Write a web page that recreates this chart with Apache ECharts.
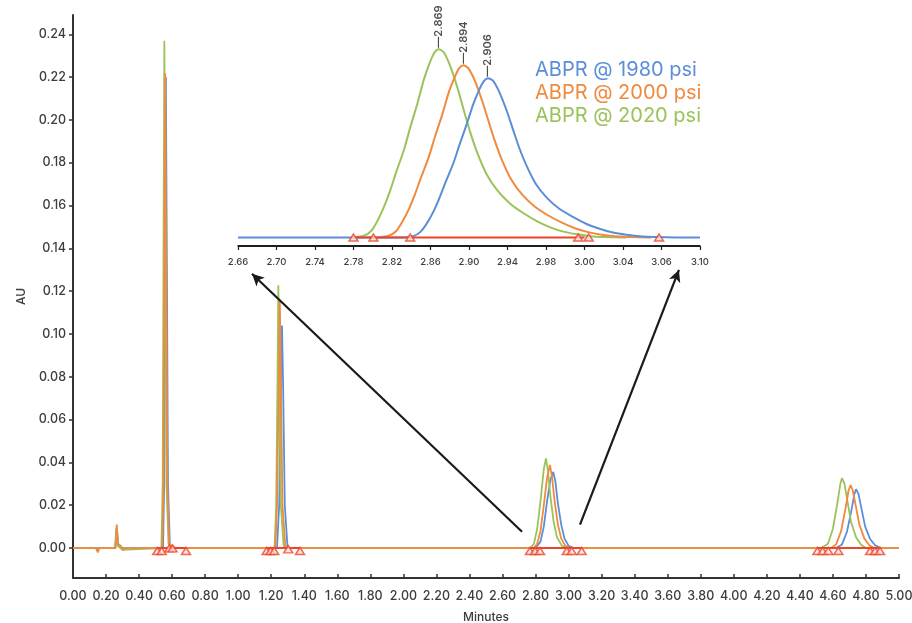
<!DOCTYPE html>
<html>
<head>
<meta charset="utf-8">
<script src="https://cdn.jsdelivr.net/npm/echarts@6/dist/echarts.min.js"></script>
<style>html,body{margin:0;padding:0;background:#fff;}#c{width:912px;height:623px;}</style>
</head>
<body>
<div id="c"></div>
<script>
// ---------- DATA ----------
const seriesNames = ['ABPR @ 1980 psi', 'ABPR @ 2000 psi', 'ABPR @ 2020 psi'];
const peakLabels = ['2.906', '2.894', '2.869'];
const yTickValues = [0, 0.02, 0.04, 0.06, 0.08, 0.10, 0.12, 0.14, 0.16, 0.18, 0.20, 0.22, 0.24];
const insetTickLabels = ['2.66','2.70','2.74','2.78','2.82','2.86','2.90','2.94','2.98','3.00','3.04','3.06','3.10'];

// main chromatogram traces [minutes, AU]
const blue1980 = [[0,0],[0.255,0],[0.265,0.009],[0.275,0.001],[0.29,0],
  [0.545,0],[0.552,0.03],[0.557,0.14],[0.562,0.22],[0.567,0.15],[0.575,0.03],[0.586,0.002],[0.60,0],
  [1.235,0],[1.248,0.02],[1.258,0.075],[1.265,0.104],[1.272,0.075],[1.282,0.02],[1.298,0.001],[1.31,0],
  [2.80,0],[2.83,0.003],[2.85,0.01],[2.87,0.022],[2.89,0.032],[2.907,0.0356],[2.92,0.031],[2.935,0.021],[2.955,0.011],[2.975,0.0045],[3.0,0.001],[3.03,0],
  [4.62,0],[4.655,0.0017],[4.685,0.0076],[4.71,0.0168],[4.73,0.0252],[4.74,0.0275],[4.755,0.0252],[4.775,0.0176],[4.795,0.0101],[4.825,0.0042],[4.855,0.0013],[4.89,0],[5.0,0]];
const orange2000 = [[0,0],[0.14,0],[0.15,-0.002],[0.16,0],[0.258,0],[0.265,0.011],[0.272,0.002],[0.29,0.001],[0.30,-0.001],[0.31,0],
  [0.54,0],[0.548,0.03],[0.553,0.14],[0.558,0.2218],[0.563,0.15],[0.571,0.03],[0.582,0.002],[0.60,0.001],[0.62,0],
  [0.99,0],[1.0,0.0006],[1.01,0],
  [1.225,0],[1.235,0.02],[1.246,0.08],[1.252,0.116],[1.258,0.08],[1.268,0.02],[1.285,0.001],[1.30,0],
  [1.79,0],[1.80,0.0005],[1.82,0],
  [2.79,0],[2.81,0.002],[2.83,0.008],[2.85,0.02],[2.87,0.033],[2.887,0.0388],[2.90,0.033],[2.915,0.022],[2.935,0.011],[2.955,0.0045],[2.98,0.001],[3.01,0],
  [4.59,0],[4.62,0.0018],[4.65,0.008],[4.675,0.018],[4.695,0.027],[4.707,0.0294],[4.72,0.027],[4.74,0.019],[4.76,0.011],[4.79,0.0045],[4.82,0.0013],[4.85,0],[5.0,0]];
const green2020 = [[0,0],[0.14,0],[0.15,-0.0015],[0.16,0],[0.255,0],[0.262,0.0095],[0.27,0.001],[0.30,-0.0008],[0.31,0],
  [0.535,0],[0.543,0.03],[0.548,0.14],[0.553,0.237],[0.558,0.15],[0.566,0.03],[0.578,0.002],[0.60,0],
  [1.22,0],[1.23,0.02],[1.238,0.08],[1.243,0.1228],[1.249,0.08],[1.258,0.02],[1.275,0.001],[1.29,0],
  [2.77,0],[2.79,0.002],[2.81,0.009],[2.83,0.022],[2.85,0.037],[2.863,0.0419],[2.875,0.036],[2.89,0.024],[2.91,0.012],[2.93,0.005],[2.96,0.001],[2.99,0],
  [4.53,0],[4.57,0.002],[4.60,0.009],[4.625,0.02],[4.645,0.030],[4.655,0.0327],[4.67,0.030],[4.69,0.021],[4.71,0.012],[4.74,0.005],[4.77,0.0015],[4.80,0],[5.0,0]];

// integration markers (main)
const mainMarkX = [0.51,0.537,0.583,0.603,0.684, 1.172,1.196,1.218,1.303,1.374, 2.766,2.797,2.827,2.989,3.019,3.079, 4.506,4.538,4.572,4.633,4.825,4.855,4.885];
const mainMarkY = [0,0,0.0012,0.0012,0, 0,0,0,0.0008,0, 0,0,0,0,0,0, 0,0,0,0,0,0,0];
const mainBaseSegments = [[0.51,0.684],[1.172,1.374],[2.766,3.079],[4.506,4.885]];

// inset traces (zoom of 2.66–3.10 min)
const insetGreen = [[2.77,0],[2.78,0.0004],[2.787,0.0015],[2.793,0.0038],[2.799,0.0068],[2.805,0.0105],[2.811,0.0148],[2.818,0.0195],[2.824,0.0245],[2.831,0.030],[2.837,0.0352],[2.843,0.0392],[2.847,0.0412],[2.851,0.042],[2.856,0.0413],[2.8625,0.038],[2.869,0.0334],[2.875,0.0284],[2.881,0.0236],[2.888,0.0188],[2.897,0.014],[2.907,0.0105],[2.919,0.0076],[2.932,0.0054],[2.945,0.0036],[2.958,0.0022],[2.97,0.0013],[2.983,0.0007],[2.995,0.0003],[3.01,0.0001],[3.03,0]];
const insetOrange = [[2.7935,0],[2.8035,0.0004],[2.8105,0.0014],[2.8165,0.0035],[2.8225,0.0062],[2.8285,0.0096],[2.8345,0.0135],[2.8415,0.0178],[2.8475,0.0224],[2.8545,0.0274],[2.8605,0.0322],[2.8665,0.0358],[2.8705,0.0377],[2.8745,0.0384],[2.8795,0.0377],[2.886,0.0347],[2.8925,0.0305],[2.8985,0.026],[2.9045,0.0216],[2.9115,0.0172],[2.9205,0.0128],[2.9305,0.0096],[2.9425,0.0069],[2.9555,0.0049],[2.9685,0.0033],[2.9815,0.002],[2.9935,0.0012],[3.0065,0.0006],[3.0185,0.0003],[3.0335,0.0001],[3.0535,0]];
const insetBlue = [[2.66,0],[2.817,0],[2.827,0.0003],[2.834,0.0013],[2.84,0.0032],[2.846,0.0057],[2.852,0.0089],[2.858,0.0125],[2.865,0.0165],[2.871,0.0207],[2.878,0.0254],[2.884,0.0297],[2.89,0.0331],[2.894,0.0348],[2.898,0.0355],[2.903,0.0349],[2.9095,0.0321],[2.916,0.0282],[2.922,0.024],[2.928,0.0199],[2.935,0.0159],[2.944,0.0118],[2.954,0.0089],[2.966,0.0064],[2.979,0.0046],[2.992,0.003],[3.005,0.0019],[3.017,0.0011],[3.03,0.0006],[3.042,0.0003],[3.057,0.0001],[3.077,0],[3.10,0]];
const insetMarkX = [2.770, 2.789, 2.824, 2.984, 2.994, 3.061];
const insetBaseSegment = [2.77, 2.99];
const insetYMin = -0.0019, insetYMax = 0.0485;

// arrows (annotation, main-axis coordinates)
const arrows = [[[2.718,0.0076],[1.0835,0.1281]], [[3.069,0.0109],[3.668,0.1299]]];

// ---------- STYLE ----------
const colors = ['#5a8fd8', '#f08a3e', '#9cc25a'];
const red = '#e8452c';
const txt = '#3d3d3d';
const font = 'Inter, "Noto Sans", sans-serif';

const chart = echarts.init(document.getElementById('c'), null, {renderer: 'canvas'});

function peakOf(arr) {
  let mi = 0;
  arr.forEach((p, i) => { if (p[1] > arr[mi][1]) mi = i; });
  return arr[mi];
}

const mainTraces = [blue1980, green2020, orange2000];
const mainColorIdx = [0, 2, 1];
const series = [];
mainTraces.forEach((d, k) => {
  series.push({name: seriesNames[mainColorIdx[k]], type: 'line', xAxisIndex: 0, yAxisIndex: 0,
    data: d, showSymbol: false, symbol: 'none', lineStyle: {width: 1.8, color: colors[mainColorIdx[k]]},
    itemStyle: {color: colors[mainColorIdx[k]]}, z: 2 + k, animation: false});
});
mainBaseSegments.forEach(s => {
  series.push({type: 'line', xAxisIndex: 0, yAxisIndex: 0, data: [[s[0],0],[s[1],0]], symbol: 'none',
    lineStyle: {width: 2, color: red}, z: 6, animation: false, silent: true});
});
series.push({type: 'scatter', xAxisIndex: 0, yAxisIndex: 0,
  data: mainMarkX.map((x, i) => [x, mainMarkY[i]]), symbol: 'triangle', symbolSize: [9, 7], symbolOffset: [0, 3],
  itemStyle: {color: '#fbd9cf', borderColor: red, borderWidth: 1.5}, z: 7, animation: false,
  markLine: {silent: true, symbol: ['none', 'arrow'], symbolSize: [9, 12], animation: false,
    lineStyle: {color: '#1a1a1a', width: 2.2, type: 'solid'}, label: {show: false},
    data: arrows.map(a => [{coord: a[0]}, {coord: a[1]}])}
});

// inset series: green, orange, blue (blue on top)
const insetSets = [[insetGreen, 2], [insetOrange, 1], [insetBlue, 0]];
insetSets.forEach((pair, k) => {
  const ci = pair[1];
  series.push({name: seriesNames[ci], type: 'line', xAxisIndex: 1, yAxisIndex: 1,
    data: pair[0], smooth: 0.25, showSymbol: false, symbol: 'none',
    lineStyle: {width: 2, color: colors[ci]}, itemStyle: {color: colors[ci]}, z: 10 + k, animation: false});
});
series.push({type: 'line', xAxisIndex: 1, yAxisIndex: 1, data: [[insetBaseSegment[0],0],[insetBaseSegment[1],0]],
  symbol: 'none', lineStyle: {width: 2, color: red}, z: 14, animation: false, silent: true});
series.push({type: 'scatter', xAxisIndex: 1, yAxisIndex: 1, data: insetMarkX.map(x => [x, 0]), clip: false,
  symbol: 'triangle', symbolSize: [9, 7], itemStyle: {color: '#fbd9cf', borderColor: red, borderWidth: 1.5}, z: 15, animation: false,
  markLine: {silent: true, symbol: ['none', 'none'], animation: false, label: {show: false},
    lineStyle: {color: '#1e1e1e', width: 2, type: 'solid'},
    data: [[{coord: [2.66, insetYMin]}, {coord: [3.10, insetYMin]}]]}
});
// peak retention-time labels
series.push({type: 'scatter', xAxisIndex: 1, yAxisIndex: 1, symbolSize: 1, z: 16, animation: false, silent: true,
  itemStyle: {color: 'rgba(0,0,0,0)'},
  data: insetSets.map(pair => ({value: peakOf(pair[0]),
    label: {show: true, formatter: '\u2014' + peakLabels[pair[1]], position: 'top', distance: 1, rotate: 90,
      align: 'left', verticalAlign: 'middle', fontSize: 11, fontWeight: 600, color: '#222', fontFamily: font}}))
});

const insetStep = (3.10 - 2.66) / (insetTickLabels.length - 1);
const insetTickPos = insetTickLabels.map((_, i) => 2.66 + i * insetStep);

const option = {
  backgroundColor: '#ffffff',
  animation: false,
  textStyle: {fontFamily: font},
  legend: {
    orient: 'vertical', left: 524, top: 55, itemGap: 3, itemWidth: 0, itemHeight: 0, selectedMode: false,
    textStyle: {fontSize: 20, fontFamily: font},
    data: [
      {name: seriesNames[0], textStyle: {color: colors[0]}},
      {name: seriesNames[1], textStyle: {color: colors[1]}},
      {name: seriesNames[2], textStyle: {color: colors[2]}}
    ]
  },
  grid: [
    {left: 73, right: 13, top: 15, bottom: 45, containLabel: false, outerBoundsMode: 'none'},
    {left: 238, right: 212, top: 20, bottom: 377, containLabel: false, outerBoundsMode: 'none'}
  ],
  xAxis: [
    {type: 'value', gridIndex: 0, min: 0, max: 5, interval: 0.2,
      name: 'Minutes', nameLocation: 'middle', nameGap: 33, nameTextStyle: {fontSize: 12, color: txt, fontFamily: font, fontWeight: 500},
      axisLine: {onZero: false, lineStyle: {color: '#333', width: 2}},
      axisTick: {show: true, inside: true, length: 4, lineStyle: {color: '#333', width: 1.5}},
      axisLabel: {fontSize: 12.5, color: txt, margin: 12, fontWeight: 500, formatter: v => v.toFixed(2), fontFamily: font},
      splitLine: {show: false}},
    {type: 'value', gridIndex: 1, min: 2.66, max: 3.10, position: 'bottom',
      axisLine: {show: true, onZero: false, lineStyle: {color: '#1e1e1e', width: 1.5}},
      axisTick: {show: true, length: 4, lineStyle: {color: '#1e1e1e', width: 1.2}, customValues: insetTickPos},
      axisLabel: {fontSize: 9.5, color: txt, margin: 11, fontWeight: 500, fontFamily: font, customValues: insetTickPos,
        formatter: v => insetTickLabels[Math.round((v - 2.66) / insetStep)]},
      splitLine: {show: false}}
  ],
  yAxis: [
    {type: 'value', gridIndex: 0, min: -0.014, max: 0.249,
      name: 'AU', nameLocation: 'middle', nameGap: 46, nameTextStyle: {fontSize: 12, color: txt, fontFamily: font, fontWeight: 500},
      axisLine: {show: true, onZero: false, lineStyle: {color: '#333', width: 2}},
      axisTick: {show: true, length: 4, lineStyle: {color: '#333', width: 1.5}, customValues: yTickValues},
      axisLabel: {fontSize: 12.5, color: txt, margin: 7, fontWeight: 500, fontFamily: font, customValues: yTickValues, formatter: v => v.toFixed(2)},
      splitLine: {show: false}},
    {type: 'value', gridIndex: 1, min: insetYMin, max: insetYMax, show: true,
      axisLine: {show: false}, axisTick: {show: false}, axisLabel: {show: false}, splitLine: {show: false}}
  ],
  series: series
};
chart.setOption(option);
</script>
</body>
</html>
